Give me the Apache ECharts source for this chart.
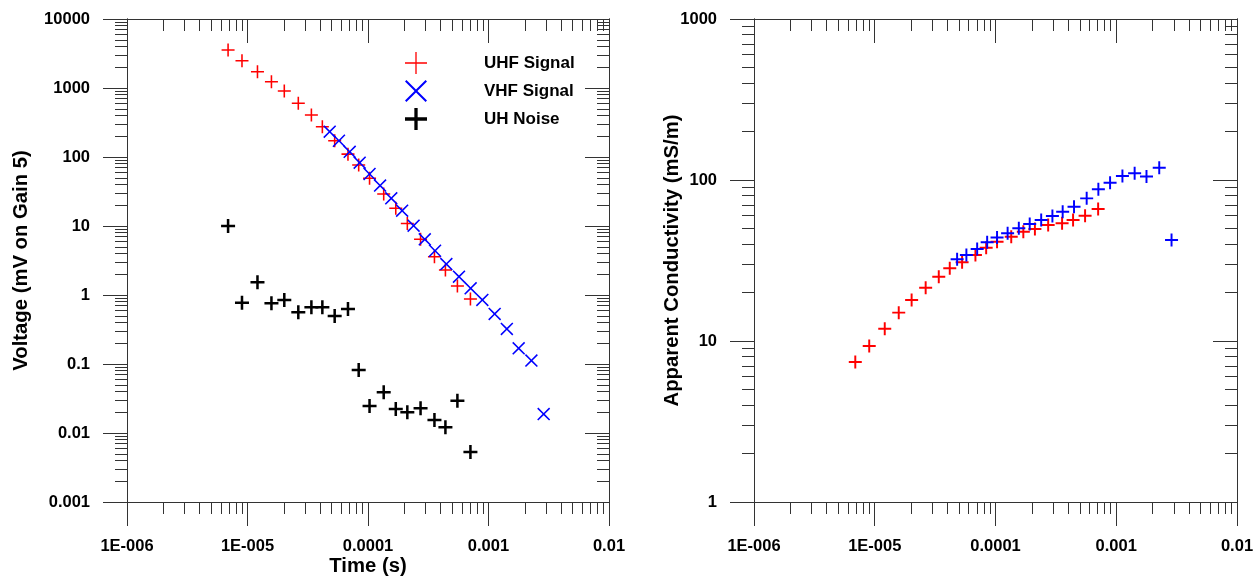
<!DOCTYPE html>
<html>
<head>
<meta charset="utf-8">
<title>UHF / VHF decay and apparent conductivity</title>
<script src="https://cdn.jsdelivr.net/npm/echarts@6/dist/echarts.min.js"></script>
<style>
  html, body { margin: 0; padding: 0; background: #fff; }
  #chart { width: 1260px; height: 583px; }
</style>
</head>
<body>
<div id="chart"></div>
<script>
// time gates (s)
const uhfTimes = [6.9e-6, 9.0e-6, 1.21e-5, 1.58e-5, 2.02e-5, 2.64e-5, 3.39e-5, 4.18e-5, 5.29e-5, 6.82e-5,
  8.37e-5, 1.03e-4, 1.35e-4, 1.70e-4, 2.12e-4, 2.73e-4, 3.56e-4, 4.39e-4, 5.52e-4, 7.08e-4]
const vhfTimes = [4.81e-5, 5.74e-5, 7.05e-5, 8.53e-5, 1.03e-4, 1.26e-4, 1.56e-4, 1.92e-4, 2.39e-4, 2.96e-4,
  3.60e-4, 4.47e-4, 5.69e-4, 7.11e-4, 8.89e-4, 1.125e-3, 1.42e-3, 1.78e-3, 2.27e-3, 2.87e-3]

// voltage (mV on gain 5)
const uhfVoltage = [3556, 2488, 1722, 1234, 905, 600, 406, 275, 172, 110,
  76.5, 49.1, 29.1, 18.1, 10.9, 6.41, 3.59, 2.30, 1.35, 0.875]
const vhfVoltage = [233, 172, 119, 82.6, 56.7, 38.6, 25.2, 16.7, 10.1, 6.41,
  4.38, 2.81, 1.84, 1.25, 0.847, 0.531, 0.322, 0.169, 0.112, 0.0188]
const noiseVoltage = [10.0, 0.773, 1.53, 0.758, 0.847, 0.561, 0.664, 0.664, 0.497, 0.627,
  0.0818, 0.0246, 0.0389, 0.0223, 0.0200, 0.0228, 0.0154, 0.0121, 0.0294, 0.0053]

// apparent conductivity (mS/m)
const uhfConductivity = [7.41, 9.31, 11.9, 15.0, 18.0, 21.4, 25.1, 28.3, 30.8, 34.2,
  38.0, 41.4, 44.4, 47.7, 49.6, 52.5, 53.8, 56.4, 60.0, 66.1]
const vhfConductivity = [32.2, 34.2, 37.3, 41.0, 44.0, 46.7, 50.1, 53.3, 56.4, 59.8,
  63.5, 68.2, 76.9, 87.5, 96.2, 106, 110, 105, 119, 42.4]

// tick labels
const timeTicks = [1e-6, 1e-5, 1e-4, 1e-3, 1e-2]
const timeLabels = ['1E-006', '1E-005', '0.0001', '0.001', '0.01']
const voltTicks = [0.001, 0.01, 0.1, 1, 10, 100, 1000, 10000]
const voltLabels = ['0.001', '0.01', '0.1', '1', '10', '100', '1000', '10000']
const condTicks = [1, 10, 100, 1000]
const condLabels = ['1', '10', '100', '1000']

const font = "'Liberation Sans', Arial, sans-serif"
const lineColor = '#333'

// 2..9 x 10^k between two decades
const minorTicks = (lo, hi) => {
  const out = []
  for (let k = lo; k < hi; k++) {
    for (let m = 2; m <= 9; m++) out.push(m * Math.pow(10, k))
  }
  return out
}

const plus = (t) =>
  `path://M${-t},-10L${t},-10L${t},${-t}L10,${-t}L10,${t}L${t},${t}L${t},10L${-t},10L${-t},${t}L-10,${t}L-10,${-t}L${-t},${-t}Z`
const cross = (a) =>
  `path://M-10,${-10 + a}L${-10 + a},-10L0,${-a}L${10 - a},-10L10,${-10 + a}L${a},0L10,${10 - a}L${10 - a},10L0,${a}L${-10 + a},10L-10,${10 - a}L${-a},0Z`

const labelFor = (values, labels) => (val) => {
  const i = values.findIndex((v) => Math.abs(Math.log10(v / val)) < 1e-6)
  return i >= 0 ? labels[i] : ''
}

const tickLabel = (values, labels, margin) => ({
  show: true,
  customValues: values,
  formatter: labelFor(values, labels),
  margin: margin,
  color: '#000',
  fontFamily: font,
  fontWeight: 'bold',
  fontSize: 16.5
})

const logAxis = (gridIndex, position, min, max, ticks, len, inside, label) => ({
  type: 'log',
  logBase: 10,
  gridIndex: gridIndex,
  position: position,
  min: min,
  max: max,
  axisLine: { show: true, onZero: false, lineStyle: { color: lineColor, width: 1 } },
  axisTick: { show: true, inside: inside, length: len, customValues: ticks, lineStyle: { color: lineColor, width: 1 } },
  axisLabel: label || { show: false },
  splitLine: { show: false },
  minorTick: { show: false },
  minorSplitLine: { show: false }
})

const nameStyle = { color: '#000', fontFamily: font, fontWeight: 'bold', fontSize: 20.3 }

const frame = (gridIndex, dim, lo, hi, ticks, labels, name, nameGap) => {
  const min = Math.pow(10, lo)
  const max = Math.pow(10, hi)
  const minors = minorTicks(lo, hi)
  const sides = dim === 'x' ? ['bottom', 'top'] : ['left', 'right']
  const main = logAxis(gridIndex, sides[0], min, max, ticks, 24, false, tickLabel(ticks, labels, dim === 'x' ? 36 : 37))
  if (name) {
    main.name = name
    main.nameLocation = 'middle'
    main.nameGap = nameGap
    main.nameMoveOverlap = false
    main.nameTextStyle = nameStyle
  }
  return [
    main,
    logAxis(gridIndex, sides[0], min, max, minors, 12, false),
    logAxis(gridIndex, sides[1], min, max, ticks, 24, true),
    logAxis(gridIndex, sides[1], min, max, minors, 12, true)
  ]
}

const pairs = (xs, ys) => xs.map((x, i) => [x, ys[i]])

const chart = echarts.init(document.getElementById('chart'))
chart.setOption({
  animation: false,
  backgroundColor: '#fff',
  grid: [
    { left: 127, top: 19, width: 482, height: 483, outerBoundsMode: 'none' },
    { left: 754, top: 19, width: 483, height: 483, outerBoundsMode: 'none' }
  ],
  xAxis: [
    ...frame(0, 'x', -6, -2, timeTicks, timeLabels, 'Time (s)', 54),
    ...frame(1, 'x', -6, -2, timeTicks, timeLabels)
  ],
  yAxis: [
    ...frame(0, 'y', -3, 4, voltTicks, voltLabels, 'Voltage (mV on Gain 5)', 96),
    ...frame(1, 'y', 0, 3, condTicks, condLabels, 'Apparent Conductivity (mS/m)', 72)
  ],
  legend: {
    orient: 'vertical',
    left: 405,
    top: 52,
    padding: 0,
    itemWidth: 22,
    itemHeight: 22,
    itemGap: 6,
    selectedMode: false,
    data: [
      { name: 'UHF Signal', icon: plus(0.6) },
      { name: 'VHF Signal', icon: cross(1.3) },
      { name: 'UH Noise', icon: plus(1.5) }
    ],
    textStyle: { color: '#000', fontFamily: font, fontWeight: 'bold', fontSize: 17, padding: [0, 0, 0, 52] }
  },
  series: [
    {
      name: 'UH Noise', type: 'scatter', xAxisIndex: 0, yAxisIndex: 0,
      symbol: plus(1.8), symbolSize: 14, itemStyle: { color: '#000', opacity: 1 },
      data: pairs(uhfTimes, noiseVoltage)
    },
    {
      name: 'UHF Signal', type: 'scatter', xAxisIndex: 0, yAxisIndex: 0,
      symbol: plus(1.2), symbolSize: 13, itemStyle: { color: '#ff0000', opacity: 1 },
      data: pairs(uhfTimes, uhfVoltage)
    },
    {
      name: 'VHF Signal', type: 'scatter', xAxisIndex: 0, yAxisIndex: 0,
      symbol: cross(1.7), symbolSize: 13, itemStyle: { color: '#0000ff', opacity: 1 },
      data: pairs(vhfTimes, vhfVoltage)
    },
    {
      name: 'UHF Conductivity', type: 'scatter', xAxisIndex: 4, yAxisIndex: 4,
      symbol: plus(1.5), symbolSize: 13, itemStyle: { color: '#ff0000', opacity: 1 },
      data: pairs(uhfTimes, uhfConductivity)
    },
    {
      name: 'VHF Conductivity', type: 'scatter', xAxisIndex: 4, yAxisIndex: 4,
      symbol: plus(1.5), symbolSize: 13, itemStyle: { color: '#0000ff', opacity: 1 },
      data: pairs(vhfTimes, vhfConductivity)
    }
  ]
})
</script>
</body>
</html>
